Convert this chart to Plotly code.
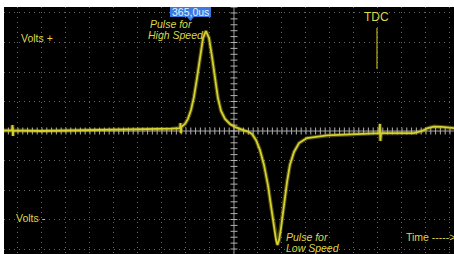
import numpy as np
import plotly.graph_objects as go

# Trace samples, in screen divisions (time: horizontal div, volts: vertical div)
time_div = [-9.58, -9.25, -9.23, -9.21, -9.19, -8.08, -6.42, -5.17, -3.5, -2.58,
            -2.25, -2.23, -2.21, -2.19, -2.04, -1.92, -1.79, -1.67, -1.54, -1.42,
            -1.29, -1.17, -1.04, -0.92, -0.79, -0.67, -0.54, -0.375, -0.17, 0.08,
            0.33, 0.58, 0.75, 0.92, 1.08, 1.25, 1.42, 1.54, 1.67, 1.75,
            1.81, 1.88, 1.96, 2.08, 2.21, 2.33, 2.5, 2.71, 3.04, 3.88,
            5.25, 6.0, 6.06, 6.08, 6.10, 6.13, 6.67, 7.5, 7.83, 8.08,
            8.33, 8.67, 9.17]
volts_div = [0.02, 0.02, 0.20, -0.17, 0.02, 0.0, 0.02, 0.03, 0.05, 0.08,
             0.10, 0.27, -0.07, 0.14, 0.24, 0.41, 0.71, 1.15, 1.80, 2.54,
             3.15, 3.39, 3.15, 2.54, 1.76, 1.12, 0.68, 0.41, 0.24, 0.12,
             0.05, -0.02, -0.10, -0.31, -0.64, -1.15, -1.86, -2.54, -3.25, -3.69,
             -3.86, -3.69, -3.29, -2.51, -1.73, -1.15, -0.71, -0.41, -0.24, -0.15,
             -0.10, -0.07, -0.07, 0.24, -0.34, -0.07, -0.08, -0.07, 0.0, 0.10,
             0.15, 0.14, 0.10]

cursor_label = "365,0us"
tdc_label = "TDC"

X_RANGE = [-9.583, 9.167]
Y_RANGE = [-4.169, 4.203]

def px_x(p):
    return (p - 234) / 24.0

def px_y(p):
    return (131 - p) / 29.5

TRACE = "#d6d12c"
TEXT = "#dcd64c"
FONT = "Liberation Sans, Arial, sans-serif"

fig = go.Figure()

# graticule minor ticks along centre lines
hx = np.arange(-9.6, 9.2001, 0.2)
vy = np.arange(-4.2, 4.2001, 0.2)
fig.add_trace(go.Scatter(x=hx, y=np.zeros_like(hx), mode="markers",
                         marker=dict(symbol="line-ns", size=5,
                                     line=dict(color="#b0b0b0", width=1)),
                         hoverinfo="skip", showlegend=False))
fig.add_trace(go.Scatter(x=np.zeros_like(vy), y=vy, mode="markers",
                         marker=dict(symbol="line-ew", size=5,
                                     line=dict(color="#b0b0b0", width=1)),
                         hoverinfo="skip", showlegend=False))

# signal trace: soft halo + core line (phosphor look)
fig.add_trace(go.Scatter(x=time_div, y=volts_div, mode="lines",
                         line=dict(color=TRACE, width=4), opacity=0.35,
                         hoverinfo="skip", showlegend=False))
fig.add_trace(go.Scatter(x=time_div, y=volts_div, mode="lines",
                         line=dict(color=TRACE, width=1.8),
                         hoverinfo="skip", showlegend=False))

shapes = [
    dict(type="line", x0=0, x1=0, y0=Y_RANGE[0], y1=Y_RANGE[1],
         line=dict(color="#9a9a9a", width=1), layer="below"),
    dict(type="line", x0=X_RANGE[0], x1=X_RANGE[1], y0=0, y1=0,
         line=dict(color="#9a9a9a", width=1), layer="below"),
    # TDC marker
    dict(type="line", x0=px_x(377), x1=px_x(377), y0=px_y(28), y1=px_y(69),
         line=dict(color=TRACE, width=1)),
    # cursor label box
    dict(type="rect", x0=px_x(170), x1=px_x(211), y0=px_y(7), y1=px_y(17),
         fillcolor="#3b7be0", line=dict(width=0)),
    dict(type="path",
         path=f"M {px_x(187)},{px_y(17)} L {px_x(194)},{px_y(17)} L {px_x(190.5)},{px_y(21)} Z",
         fillcolor="#3b7be0", line=dict(width=0)),
]

def ann(text, x, y, xanchor="left", size=10, italic=False, color=TEXT):
    return dict(text=text, x=px_x(x), y=px_y(y), xref="x", yref="y",
                xanchor=xanchor, yanchor="middle", showarrow=False,
                font=dict(family=FONT, size=size, color=color,
                          style="italic" if italic else "normal"))

annotations = [
    ann(cursor_label, 190.5, 12.5, xanchor="center", size=10.5, color="#e8eeff"),
    ann("Pulse for", 148, 24.5, italic=True, size=10.5),
    ann("High Speed", 146, 35.5, italic=True, size=10.5),
    ann("Volts +", 19, 38.5, size=10.5),
    ann("Volts -", 14, 218, size=10.5),
    ann(tdc_label, 377, 17.5, xanchor="center", size=12),
    ann("Pulse for", 284, 236.5, italic=True, size=10.5),
    ann("Low Speed", 284, 247.5, italic=True, size=10.5),
    ann("Time ----->", 404, 236.5, size=10.5),
]

axis_common = dict(showgrid=True, gridcolor="#666666", gridwidth=1,
                   griddash="1px,4px", zeroline=False, showticklabels=False,
                   ticks="", showline=False, fixedrange=True)

fig.update_layout(
    width=454, height=254,
    margin=dict(l=4, r=0, t=7, b=0),
    paper_bgcolor="white", plot_bgcolor="black",
    xaxis=dict(range=X_RANGE, dtick=1, tick0=0, **axis_common),
    yaxis=dict(range=Y_RANGE, dtick=1, tick0=0, **axis_common),
    shapes=shapes, annotations=annotations,
    showlegend=False,
)

fig.write_html(
    "out.html",
    config={"displayModeBar": False},
    post_script="document.body.style.margin='0';document.body.style.padding='0';"
                "document.body.style.overflow='hidden';"
                "document.documentElement.style.overflow='hidden';",
)
